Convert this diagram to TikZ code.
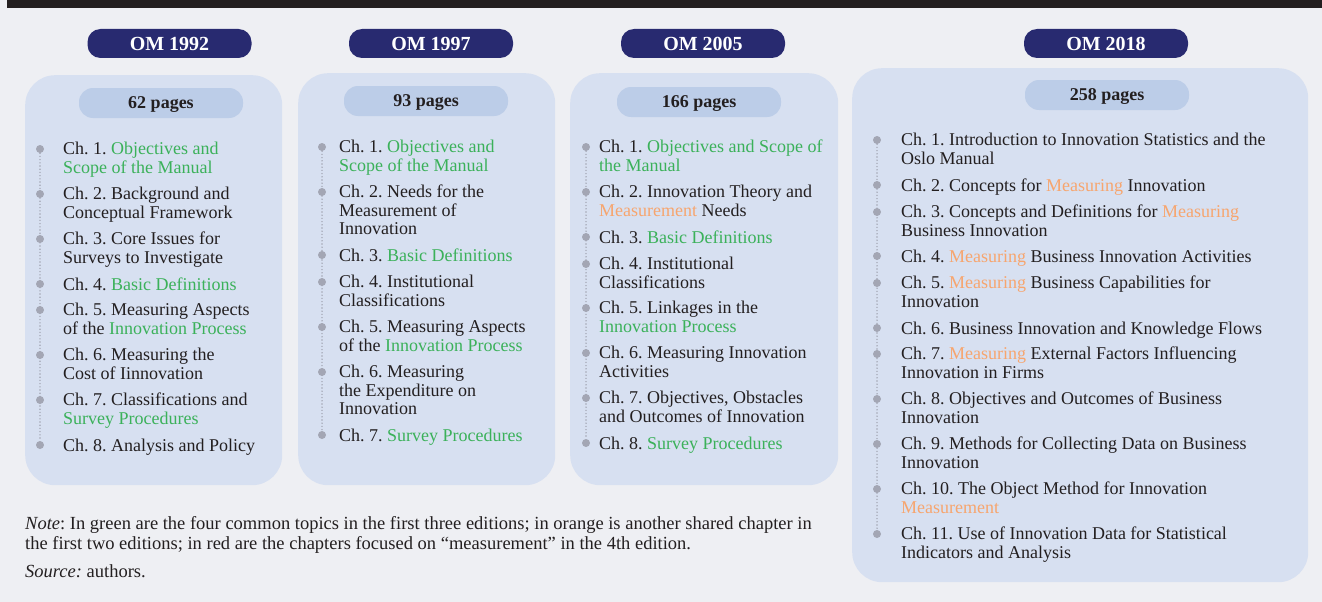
\documentclass[tikz,border=0pt]{standalone}
\usepackage{fontspec}
\setmainfont{Liberation Serif}
\frenchspacing
\definecolor{pagebg}{HTML}{EEEFF3}
\definecolor{ink}{HTML}{231F20}
\definecolor{navy}{HTML}{282A70}
\definecolor{panelblue}{HTML}{D7E0F1}
\definecolor{pillblue}{HTML}{BCCDE8}
\definecolor{dotgray}{HTML}{A3A6B4}
\definecolor{topicgreen}{HTML}{3BB15A}
\definecolor{topicorange}{HTML}{F7A56E}
\newcommand{\grn}[1]{\textcolor{topicgreen}{#1}}
\newcommand{\orn}[1]{\textcolor{topicorange}{#1}}
\newcommand{\chfont}{\fontsize{18}{18.5}\selectfont}

\begin{document}
\begin{tikzpicture}[x=1pt, y=-1pt,
  edition/.style={fill=navy, rounded corners=13pt, minimum width=164pt, minimum height=29pt, inner sep=0pt, text=white, font=\bfseries\fontsize{20}{20}\selectfont},
  panel/.style={fill=panelblue, rounded corners=30pt, anchor=north west, inner sep=0pt},
  pagespill/.style={fill=pillblue, rounded corners=14pt, minimum width=164pt, minimum height=30pt, inner sep=0pt, text depth=0pt, text=ink, font=\bfseries\fontsize{18}{18}\selectfont},
  chapter/.style={anchor=north west, align=left, inner sep=0pt, text=ink, font=\chfont, execute at begin node={\rule{0pt}{13pt}}},
  bullet/.style={circle, fill=dotgray, inner sep=0pt, minimum size=8pt},
  trail/.style={dotgray, line width=1.6pt, dash pattern=on 0pt off 3.2pt, line cap=round},
  remark/.style={anchor=north west, align=left, inner sep=0pt, text=ink, font=\fontsize{18.5}{20.5}\selectfont, execute at begin node={\rule{0pt}{13pt}}}]
\useasboundingbox (0,0) rectangle (1322,602);
\fill[pagebg] (0,0) rectangle (1322,602);
\fill[ink] (7,0) rectangle (1322,8);

% editions
\node[edition] (om92) at (169.5,43.5) {OM 1992};
\node[edition] (om97) at (431,43.5) {OM 1997};
\node[edition] (om05) at (703,43.5) {OM 2005};
\node[edition] (om18) at (1106,43.5) {OM 2018};

\node[panel, minimum width=257pt, minimum height=410pt] (pan92) at (25,75) {};
\node[panel, minimum width=257pt, minimum height=412pt] (pan97) at (298,73) {};
\node[panel, minimum width=268pt, minimum height=412pt] (pan05) at (570,73) {};
\node[panel, minimum width=456pt, minimum height=514pt] (pan18) at (852,68) {};

\node[pagespill] (pg92) at (161,103) {62 pages};
\node[pagespill] (pg97) at (426,101) {93 pages};
\node[pagespill] (pg05) at (699,102) {166 pages};
\node[pagespill] (pg18) at (1107,95) {258 pages};

% OM 1992
\foreach \y/\t [count=\i] in {
  155/{Ch. 1. \grn{Objectives and}\\\grn{Scope of the Manual}},
  200/{Ch. 2. Background and\\Conceptual Framework},
  245/{Ch. 3. Core Issues for\\Surveys to Investigate},
  290/{Ch. 4. \grn{Basic Definitions}},
  316/{Ch. 5. Measuring Aspects\\of the \grn{Innovation Process}},
  361/{Ch. 6. Measuring the\\Cost of Iinnovation},
  406/{Ch. 7. Classifications and\\\grn{Survey Procedures}},
  451/{Ch. 8. Analysis and Policy}}{
\node[chapter] (a\i) at (63,\y-13) {\t};
\node[bullet] (adot\i) at (40,\y-6) {};
}
\draw[trail] (adot1) -- (adot8);

% OM 1997
\foreach \y/\t [count=\i] in {
  153/{Ch. 1. \grn{Objectives and}\\\grn{Scope of the Manual}},
  198/{Ch. 2. Needs for the\\Measurement of\\Innovation},
  261/{Ch. 3. \grn{Basic Definitions}},
  288/{Ch. 4. Institutional\\Classifications},
  333/{Ch. 5. Measuring Aspects\\of the \grn{Innovation Process}},
  378/{Ch. 6. Measuring\\the Expenditure on\\Innovation},
  441/{Ch. 7. \grn{Survey Procedures}}}{
\node[chapter] (b\i) at (339,\y-13) {\t};
\node[bullet] (bdot\i) at (322,\y-6) {};
}
\draw[trail] (bdot1) -- (bdot7);

% OM 2005
\foreach \y/\t [count=\i] in {
  153/{Ch. 1. \grn{Objectives and Scope of}\\\grn{the Manual}},
  198/{Ch. 2. Innovation Theory and\\\orn{Measurement} Needs},
  243/{Ch. 3. \grn{Basic Definitions}},
  270/{Ch. 4. Institutional\\Classifications},
  314/{Ch. 5. Linkages in the\\\grn{Innovation Process}},
  359/{Ch. 6. Measuring Innovation\\Activities},
  404/{Ch. 7. Objectives, Obstacles\\and Outcomes of Innovation},
  449/{Ch. 8. \grn{Survey Procedures}}}{
\node[chapter] (c\i) at (599,\y-13) {\t};
\node[bullet] (cdot\i) at (586,\y-6) {};
}
\draw[trail] (cdot1) -- (cdot8);

% OM 2018
\foreach \y/\t [count=\i] in {
  146/{Ch. 1. Introduction to Innovation Statistics and the\\Oslo Manual},
  191/{Ch. 2. Concepts for \orn{Measuring} Innovation},
  218/{Ch. 3. Concepts and Definitions for \orn{Measuring}\\Business Innovation},
  262/{Ch. 4. \orn{Measuring} Business Innovation Activities},
  289/{Ch. 5. \orn{Measuring} Business Capabilities for\\Innovation},
  334/{Ch. 6. Business Innovation and Knowledge Flows},
  360/{Ch. 7. \orn{Measuring} External Factors Influencing\\Innovation in Firms},
  405/{Ch. 8. Objectives and Outcomes of Business\\Innovation},
  450/{Ch. 9. Methods for Collecting Data on Business\\Innovation},
  495/{Ch. 10. The Object Method for Innovation\\\orn{Measurement}},
  540/{Ch. 11. Use of Innovation Data for Statistical\\Indicators and Analysis}}{
\node[chapter] (d\i) at (901,\y-13) {\t};
\node[bullet] (ddot\i) at (877,\y-6) {};
}
\draw[trail] (ddot1) -- (ddot11);

% note
\node[remark] (note) at (25,529-13)
  {\textit{Note}: In green are the four common topics in the first three editions; in orange is another shared chapter in\\the first two editions; in red are the chapters focused on “measurement” in the 4th edition.};
\node[remark] (source) at (25,577-13) {\textit{Source:} authors.};
\end{tikzpicture}
\end{document}
